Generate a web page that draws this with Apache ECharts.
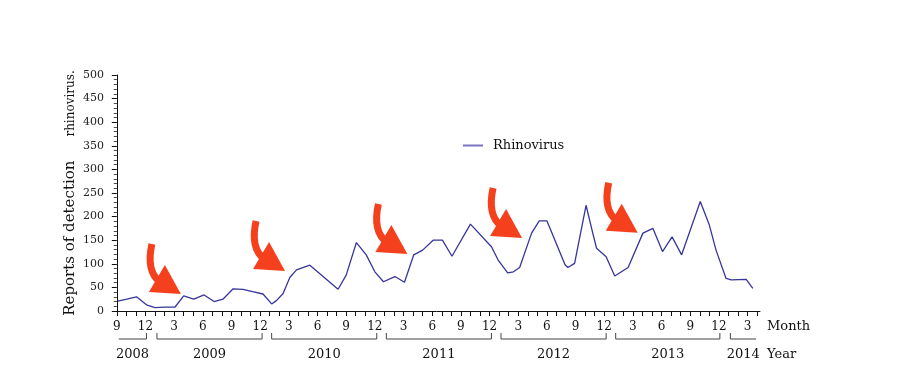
<!DOCTYPE html>
<html><head><meta charset="utf-8">
<script src="https://cdn.jsdelivr.net/npm/echarts@6/dist/echarts.min.js"></script>
<style>html,body{margin:0;padding:0;background:#fff}#c{width:897px;height:387px}</style>
</head><body><div id="c"></div>
<script>
// month offset from September 2008 (0 = Sep 2008)
const monthPos = [0.1, 1.05, 2.06, 3.1, 4.0, 5.0, 6.07, 7.0, 8.05, 9.13, 10.18, 11.1, 12.17, 13.2, 14.2, 15.3, 16.2, 16.7, 17.4, 18.1, 18.8, 20.2, 23.15, 24.0, 25.07, 26.1, 27.0, 27.9, 29.1, 30.1, 31.07, 32.0, 33.1, 34.07, 35.07, 37.0, 39.2, 39.9, 40.9, 41.5, 42.15, 43.4, 44.2, 45.0, 46.9, 47.2, 47.9, 49.1, 49.8, 50.2, 51.2, 52.1, 53.5, 55.05, 56.1, 57.1, 58.1, 59.1, 61.05, 62.0, 62.7, 63.75, 64.3, 65.85, 66.55];
const reports = [21, 25, 30, 13, 7, 8, 8, 32, 25, 34, 20, 25, 47, 46, 41, 36, 15, 22, 37, 71, 87, 97, 46, 76, 145, 119, 83, 62, 73, 61, 119, 129, 150, 150, 116, 184, 136, 108, 81, 83, 92, 165, 191, 191, 98, 92, 101, 224, 165, 133, 115, 74, 92, 165, 175, 126, 157, 119, 232, 182, 129, 69, 66, 67, 48];
const monthTicks = Array.from({length: 68}, (_, i) => i);
const monthLabelPos = [0, 3, 6, 9, 12, 15, 18, 21, 24, 27, 30, 33, 36, 39, 42, 45, 48, 51, 54, 57, 60, 63, 66];
const years = ['2008', '2009', '2010', '2011', '2012', '2013', '2014'];
const yearSpans = [[0.2, 3.1], [4.2, 15.2], [16.2, 27.2], [28.2, 39.2], [40.2, 51.2], [52.2, 63.1], [64.2, 66.9]];
const arrowTips = [[6.6, 38], [17.5, 87], [30.3, 123], [42.3, 157], [54.4, 168]];
const seriesName = 'Rhinovirus';

const FONT = 'DejaVu Serif';
const yearCenters = yearSpans.map(s => (s[0] + s[1]) / 2);

const chart = echarts.init(document.getElementById('c'), null, {renderer: 'canvas'});
chart.setOption({
  animation: false,
  backgroundColor: '#fff',
  grid: {left: 113, right: 137, top: 75, bottom: 76, containLabel: false},
  legend: {
    left: 458, top: 134,
    itemWidth: 20, itemHeight: 2, icon: 'rect',
    textStyle: {fontFamily: FONT, fontSize: 13, color: '#111', padding: [0, 0, 0, 5]},
    data: [{name: seriesName, itemStyle: {color: '#7b72c0'}}]
  },
  xAxis: [{
    type: 'value', min: -0.4, max: 67.3,
    axisLine: {show: true, lineStyle: {color: '#111', width: 1}},
    axisTick: {show: true, length: 5, customValues: monthTicks, lineStyle: {color: '#111'}},
    axisLabel: {customValues: monthLabelPos, margin: 10, fontFamily: FONT, fontSize: 12, color: '#111',
      formatter: v => String(((Math.round(v) + 8) % 12) + 1)},
    splitLine: {show: false},
    name: 'Month', nameLocation: 'end', nameGap: 7,
    nameTextStyle: {fontFamily: FONT, fontSize: 13, color: '#111', verticalAlign: 'top', align: 'left', padding: [9, 0, 0, 0]}
  }, {
    type: 'value', min: -0.4, max: 67.3, position: 'bottom', offset: 30,
    axisLine: {show: false}, axisTick: {show: false}, splitLine: {show: false},
    axisLabel: {customValues: yearCenters, margin: 7, fontFamily: FONT, fontSize: 13, color: '#111',
      formatter: v => String(2008 + Math.floor((v + 8) / 12))},
    name: 'Year', nameLocation: 'end', nameGap: 7,
    nameTextStyle: {fontFamily: FONT, fontSize: 13, color: '#111', verticalAlign: 'top', align: 'left', padding: [7, 0, 0, 0]}
  }],
  yAxis: {
    type: 'value', min: 0, max: 500, interval: 50,
    axisLine: {show: true, lineStyle: {color: '#111'}},
    axisTick: {show: true, length: 5, lineStyle: {color: '#111'}},
    minorTick: {show: true, splitNumber: 5, length: 3, lineStyle: {color: '#444'}},
    splitLine: {show: false},
    axisLabel: {margin: 9, fontFamily: FONT, fontSize: 11, color: '#222'},
    name: '{a|Reports of detection}{b|rhinovirus.}',
    nameLocation: 'middle', nameGap: 35, nameMoveOverlap: false,
    nameTextStyle: {
      rich: {
        a: {fontFamily: FONT, fontSize: 15, color: '#111'},
        b: {fontFamily: FONT, fontSize: 12, color: '#111', padding: [0, 0, 0, 24]}
      }
    }
  },
  series: [{
    name: seriesName, type: 'line', xAxisIndex: 0, yAxisIndex: 0,
    symbol: 'none', smooth: false,
    lineStyle: {color: '#36359c', width: 1.3},
    itemStyle: {color: '#36359c'},
    data: monthPos.map((m, i) => [m, reports[i]])
  }]
});

function px(m, v) { return chart.convertToPixel({xAxisIndex: 0, yAxisIndex: 0}, [m, v]); }
const graphics = [];
const y0 = px(0, 0)[1];
const by = y0 + 28, bt = y0 + 22;
yearSpans.forEach((s, i) => {
  const xa = px(s[0], 0)[0], xb = px(s[1], 0)[0];
  const pts = [];
  if (i !== 0) pts.push([xa, bt]);
  pts.push([xa, by], [xb, by]);
  if (i !== yearSpans.length - 1) pts.push([xb, bt]);
  graphics.push({type: 'polyline', shape: {points: pts}, style: {stroke: '#444', lineWidth: 1, fill: null}, silent: true});
});
arrowTips.forEach(t => {
  const p = px(t[0], t[1]);
  graphics.push({
    type: 'group', x: p[0], y: p[1], silent: true,
    children: [
      {type: 'bezierCurve', shape: {x1: -28, y1: -49, cpx1: -34, cpy1: -22, x2: -20, y2: -11},
        style: {stroke: '#f5401e', lineWidth: 7, fill: null, lineCap: 'butt'}},
      {type: 'polygon', shape: {points: [[-31, -1], [-15, -28], [1, 1]]}, style: {fill: '#f5401e'}}
    ]
  });
});
chart.setOption({graphic: graphics});
</script>
</body></html>
